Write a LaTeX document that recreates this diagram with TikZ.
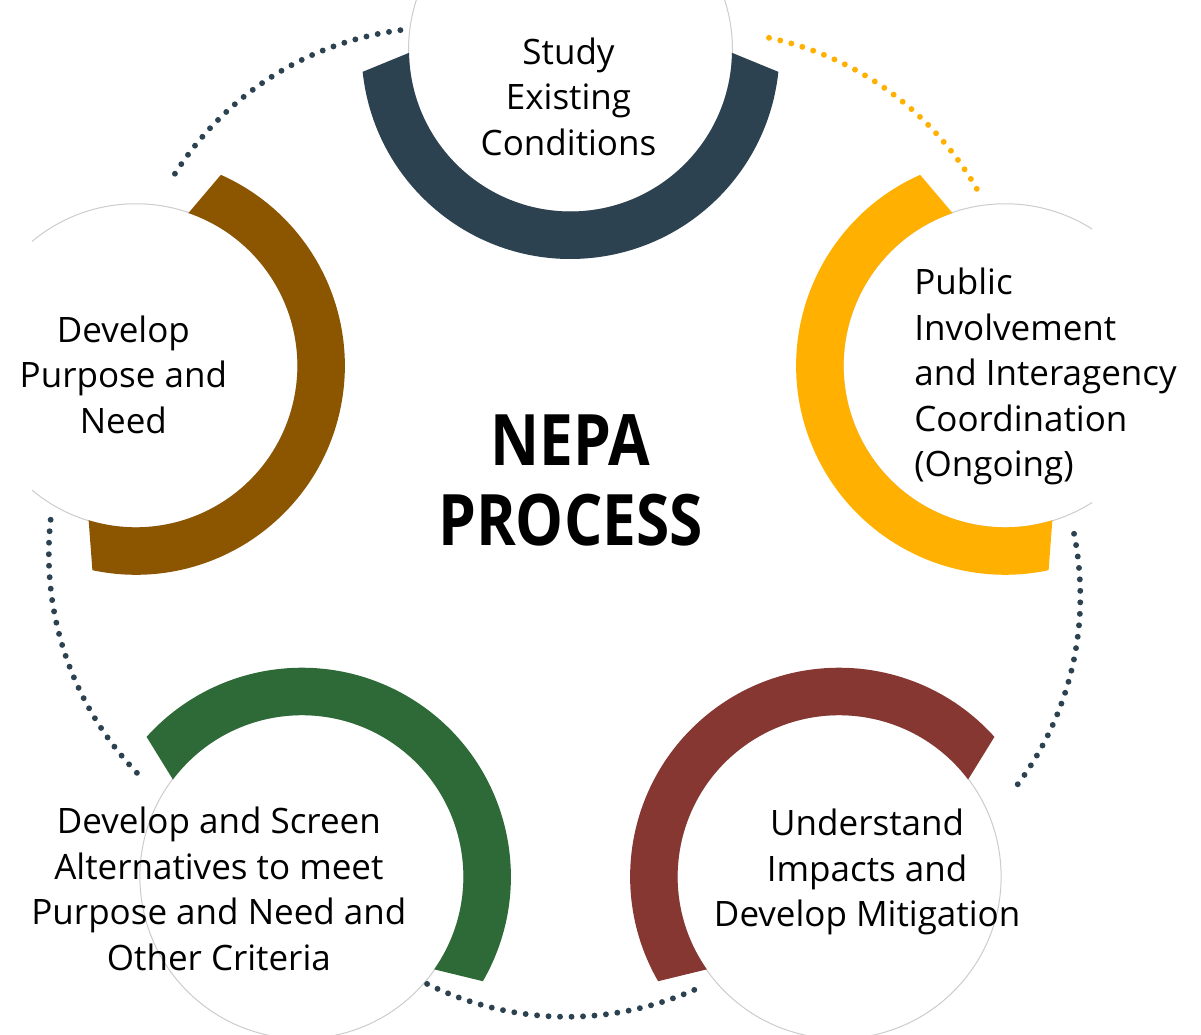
\documentclass[tikz,border=0pt]{standalone}
\usepackage{fontspec}
\setmainfont{Open Sans}
\newfontfamily\titlefont[FakeStretch=0.85]{Open Sans}
\usepackage{xcolor}
\usetikzlibrary{positioning,calc}
\definecolor{slate}{HTML}{2C4251}
\definecolor{umber}{HTML}{8C5500}
\definecolor{amber}{HTML}{FFB000}
\definecolor{brick}{HTML}{863731}
\definecolor{forest}{HTML}{2E6A37}

\begin{document}
\begin{tikzpicture}[x = 1pt, y = 1pt,
  stage/.style = {circle, minimum size = 324pt, inner sep = 0pt, outer sep = 0pt, fill = white, draw = black!20, line width = 1pt},
  stagetext/.style = {align = center, inner sep = 0pt, font = \fontsize{35}{45.5}\selectfont},
  dotline/.style = {line width = 5.9pt, line cap = round, dash pattern = on 0pt off 11.5pt, bend left = 25, looseness = 0.9}]
\useasboundingbox (0,0) rectangle (1201,1035);
\coordinate (hub) at (570.5,528);
\begin{scope}
\clip (32,0) rectangle (1092,1035);
\node[stage] (study) at ($(hub)+(90:457)$) {};
\node[stage] (public) at ($(hub)+(18:457)$) {};
\node[stage] (impacts) at ($(hub)+(-54:457)$) {};
\node[stage] (alternatives) at ($(hub)+(234:457)$) {};
\node[stage] (purpose) at ($(hub)+(162:457)$) {};
\end{scope}
\fill[slate] ([shift={(186:209)}]study.center) arc[start angle = 186, end angle = 354, radius = 209] -- ([shift={(359:161.5)}]study.center) arc[start angle = 359, end angle = 181, radius = 161.5] -- cycle;
\fill[amber] ([shift={(114:209)}]public.center) arc[start angle = 114, end angle = 282, radius = 209] -- ([shift={(287:161.5)}]public.center) arc[start angle = 287, end angle = 109, radius = 161.5] -- cycle;
\fill[brick] ([shift={(42:209)}]impacts.center) arc[start angle = 42, end angle = 210, radius = 209] -- ([shift={(215:161.5)}]impacts.center) arc[start angle = 215, end angle = 37, radius = 161.5] -- cycle;
\fill[forest] ([shift={(-30:209)}]alternatives.center) arc[start angle = -30, end angle = 138, radius = 209] -- ([shift={(143:161.5)}]alternatives.center) arc[start angle = 143, end angle = -35, radius = 161.5] -- cycle;
\fill[umber] ([shift={(-102:209)}]purpose.center) arc[start angle = -102, end angle = 66, radius = 209] -- ([shift={(71:161.5)}]purpose.center) arc[start angle = 71, end angle = -107, radius = 161.5] -- cycle;
% dotted links between the stages
\coordinate (p1) at ([shift={(78.5:196)}]purpose.center);
\coordinate (s1) at ([shift={(173.3:170.7)}]study.center);
\coordinate (s2) at ([shift={(3.5:198.9)}]study.center);
\coordinate (u1) at ([shift={(97.8:168.6)}]public.center);
\coordinate (u2) at ([shift={(-67.7:181.6)}]public.center);
\coordinate (i1) at ([shift={(26:191.4)}]impacts.center);
\coordinate (i2) at ([shift={(218:183.8)}]impacts.center);
\coordinate (a1) at ([shift={(319.4:164.5)}]alternatives.center);
\coordinate (a2) at ([shift={(147.8:195)}]alternatives.center);
\coordinate (p2) at ([shift={(240.9:175)}]purpose.center);
\draw[dotline, slate] (p1) to (s1);
\draw[dotline, amber] (s2) to (u1);
\draw[dotline, slate] (u2) to (i1);
\draw[dotline, slate] (i2) to (a1);
\draw[dotline, slate] (a2) to (p2);
\node[stagetext] (studylabel) at ([shift={(-2,-46.5)}]study.center) {Study\\Existing\\Conditions};
\node[stagetext] (purposelabel) at ([shift={(-12.5,-9)}]purpose.center) {Develop\\Purpose and\\Need};
\node[stagetext, align = left, anchor = west] (publiclabel) at ([shift={(-91,-11)}]public.center) {Public\\Involvement\\and Interagency\\Coordination\\(Ongoing)};
\node[stagetext] (impactslabel) at ([shift={(28,4.5)}]impacts.center) {Understand\\Impacts and\\Develop Mitigation};
\node[stagetext] (alternativeslabel) at ([shift={(-83,-12)}]alternatives.center) {Develop and Screen\\Alternatives to meet\\Purpose and Need and\\Other Criteria};
\node[align = center, inner sep = 0pt, font = \titlefont\bfseries\fontsize{71}{80}\selectfont] (title) at ([shift={(0,27)}]hub) {NEPA\\PROCESS};
\end{tikzpicture}
\end{document}
